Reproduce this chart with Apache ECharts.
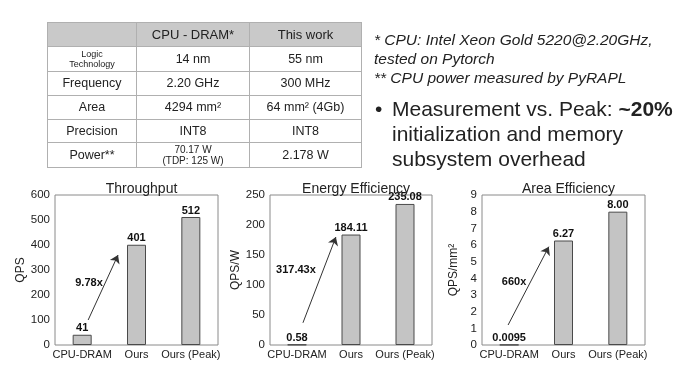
<!DOCTYPE html>
<html>
<head>
<meta charset="utf-8">
<script src="https://cdn.jsdelivr.net/npm/echarts@6/dist/echarts.min.js"></script>
<style>
  html, body { margin:0; padding:0; background:#fff; }
  #wrap { position:relative; width:698px; height:371px; overflow:hidden; font-family:"Liberation Sans", Arial, sans-serif; color:#222; }
  #chart { position:absolute; left:0; top:0; width:698px; height:371px; }
  #tbl { position:absolute; left:47px; top:22px; border-collapse:collapse; z-index:2; table-layout:fixed; }
  #tbl td { border:1px solid #b0b0b0; text-align:center; vertical-align:middle; padding:0; font-size:12.5px; color:#222; line-height:13px; }
  #tbl tr.hd td { background:#c9c9c9; font-size:13px; }
  #tbl td.small { font-size:9px; line-height:10px; }
  #notes { position:absolute; left:374px; top:30px; font-size:15.5px; line-height:19px; font-style:italic; z-index:2; color:#222; white-space:nowrap; }
  #bullet { position:absolute; left:375px; top:96px; font-size:21px; line-height:25px; z-index:2; color:#222; padding-left:17px; white-space:nowrap; }
  #bullet .dot { position:absolute; left:0; top:0; }
</style>
</head>
<body>
<div id="wrap">
  <div id="chart"></div>
  <table id="tbl"></table>
  <div id="notes"></div>
  <div id="bullet"></div>
</div>
<script>
// ---------- data ----------
const categories = ['CPU-DRAM', 'Ours', 'Ours (Peak)'];
const throughput = [41, 401, 512];
const energyEfficiency = [0.58, 184.11, 235.08];
const areaEfficiency = [0.0095, 6.27, 8.00];
const chartTitles = ['Throughput', 'Energy Efficiency', 'Area Efficiency'];
const yAxisNames = ['QPS', 'QPS/W', 'QPS/mm²'];
const yAxisMax = [600, 250, 9];
const yAxisInterval = [100, 50, 1];
const labelDecimals = [0, 2, 2];
const arrowLabels = ['9.78x', '317.43x', '660x'];
const arrowStart = [[0.11, 100], [0.11, 37], [-0.02, 1.2]];
const arrowEnd = [[0.66, 360], [0.72, 180], [0.73, 5.9]];
const arrowLabelAt = [[0.126, 248], [-0.02, 125], [0.09, 3.78]];

const tableHeader = ['', 'CPU - DRAM*', 'This work'];
const tableRowNames = ['Logic<br>Technology', 'Frequency', 'Area', 'Precision', 'Power**'];
const tableCpu = ['14 nm', '2.20 GHz', '4294 mm²', 'INT8', '70.17 W<br>(TDP: 125 W)'];
const tableOurs = ['55 nm', '300 MHz', '64 mm² (4Gb)', 'INT8', '2.178 W'];

const noteLines = ['* CPU: Intel Xeon Gold 5220@2.20GHz,', 'tested on Pytorch', '** CPU power measured by PyRAPL'];
const bulletLines = ['Measurement vs. Peak: <b>~20%</b>', 'initialization and memory', 'subsystem overhead'];

// ---------- table & text ----------
const colW = [88, 112, 111];
const rowH = [24, 25, 24, 24, 23, 25];
let html = '<tr class="hd" style="height:' + rowH[0] + 'px">' +
  tableHeader.map((h, i) => '<td style="width:' + colW[i] + 'px">' + h + '</td>').join('') + '</tr>';
tableRowNames.forEach((n, r) => {
  const small0 = r === 0 ? ' class="small"' : '';
  const small1 = r === 4 ? ' class="small" style="font-size:10px;line-height:11px"' : '';
  html += '<tr style="height:' + rowH[r + 1] + 'px"><td' + small0 + '>' + n + '</td><td' + small1 + '>' +
    tableCpu[r] + '</td><td>' + tableOurs[r] + '</td></tr>';
});
document.getElementById('tbl').innerHTML = html;
document.getElementById('notes').innerHTML = noteLines.join('<br>');
document.getElementById('bullet').innerHTML = '<span class="dot">•</span>' + bulletLines.join('<br>');

// ---------- charts ----------
const seriesValues = [throughput, energyEfficiency, areaEfficiency];
const gridBoxes = [
  { left: 55, top: 195, width: 163, height: 150 },
  { left: 270, top: 195, width: 162, height: 150 },
  { left: 482, top: 195, width: 163, height: 150 }
];
const yNameGaps = [23, 19, 22];
const font = '"Liberation Sans", Arial, sans-serif';

const grid = [], xAxis = [], yAxis = [], series = [], title = [];
gridBoxes.forEach((g, i) => {
  grid.push(Object.assign({ show: true, borderColor: '#8a8a8a', borderWidth: 1, backgroundColor: 'transparent' }, g));
  title.push({
    text: chartTitles[i], left: g.left + g.width / 2, top: 177, textAlign: 'center',
    textStyle: { fontFamily: font, fontSize: 14, fontWeight: 'normal', color: '#222' }
  });
  xAxis.push({
    type: 'category', gridIndex: i, data: categories,
    axisLine: { show: false }, axisTick: { show: false },
    axisLabel: { fontFamily: font, fontSize: 11, color: '#222', margin: 4, interval: 0 }
  });
  yAxis.push({
    type: 'value', gridIndex: i, min: 0, max: yAxisMax[i], interval: yAxisInterval[i],
    name: yAxisNames[i], nameLocation: 'middle', nameGap: yNameGaps[i], nameRotate: 90,
    nameTextStyle: { fontFamily: font, fontSize: 12, color: '#222' },
    axisLine: { show: false }, axisTick: { show: false }, splitLine: { show: false },
    axisLabel: { fontFamily: font, fontSize: 11.5, color: '#222', margin: 5 }
  });
  series.push({
    type: 'bar', xAxisIndex: i, yAxisIndex: i, data: seriesValues[i], barWidth: 19,
    itemStyle: { color: '#c4c4c4', borderColor: '#4a4a4a', borderWidth: 1 },
    label: {
      show: true, position: 'top', distance: 1, fontFamily: font, fontSize: 11, fontWeight: 'bold', color: '#111',
      formatter: p => (p.value < 0.1 ? String(p.value) : p.value.toFixed(labelDecimals[i]))
    },
    silent: true
  });
});
// hidden value x axes for arrows
gridBoxes.forEach((g, i) => {
  xAxis.push({ type: 'value', gridIndex: i, min: -0.5, max: 2.5, show: false });
  series.push({
    type: 'scatter', xAxisIndex: 3 + i, yAxisIndex: i, symbolSize: 0, silent: true,
    itemStyle: { opacity: 1, color: '#222' },
    data: [arrowLabelAt[i]],
    label: {
      show: true, position: 'inside', formatter: () => arrowLabels[i],
      fontFamily: font, fontSize: 11, fontWeight: 'bold', color: '#111'
    },
    markLine: {
      silent: true, symbol: ['none', 'arrow'], symbolSize: 8, animation: false,
      label: { show: false },
      lineStyle: { color: '#333', width: 1, type: 'solid', opacity: 1 },
      data: [[{ coord: arrowStart[i] }, { coord: arrowEnd[i] }]]
    }
  });
});

const chart = echarts.init(document.getElementById('chart'), null, { renderer: 'canvas' });
chart.setOption({ animation: false, backgroundColor: '#fff', title, grid, xAxis, yAxis, series });
</script>
</body>
</html>
